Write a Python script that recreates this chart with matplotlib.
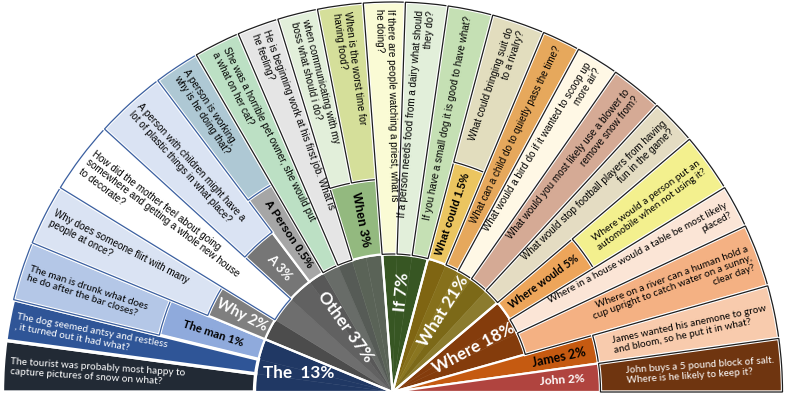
import matplotlib.pyplot as plt
from matplotlib.patches import Wedge
import numpy as np

ARIAL = ["Liberation Sans", "DejaVu Sans"]
CALIBRI = ["Lato", "DejaVu Sans"]

# inner ring: first word of the question
group_names = ["The ", "Other", "If", "What", "Where"]
group_pct = [13, 37, 7, 21, 18]
group_colors = ["#203864", "#707070", "#375623", "#7f6512", "#843c0c"]

# second ring: first two words
sub_names = ["The man", "Why", "A", "A Person", "When", "What could",
             "Where would", "James", "John"]
sub_pct = [1, 2, 3, 0.5, 3, 1.5, 5, 2, 2]
sub_colors = ["#8faadc", "#7f7f7f", "#767676", "#a6a6a6", "#93b97f",
              "#ebc560", "#eda55a", "#c55a11", "#b0443f"]
sub_text_colors = ["black", "white", "white", "black", "black",
                   "black", "black", "black", "white"]

# outer ring: example questions, left to right
questions = [
    "The tourist was probably most happy to\ncapture pictures of snow on what?",
    "The dog seemed antsy and restless\n, it turned out it had what?",
    "The man is drunk what does\nhe do after the bar closes?",
    "Why does someone flirt with many\npeople at once?",
    "How did the mother feel about going\nsomewhere and getting a whole new house\nto decorate?",
    "A person with children might have a\nlot of plastic things in what place?",
    "A person is working,\nwhy is he doing that?",
    "She was a horrible pet owner, she would put\na what on her cat?",
    "He is beginning work at his first job. What is\nhe feeling?",
    "when communicating with my\nboss what should i do?",
    "When is the worst time for\nhaving food?",
    "If there are people watching a priest, what is\nhe doing?",
    "If a person needs food from a dairy what should\nthey do?",
    "If you have a small dog it is good to have what?",
    "What could bringing suit do\nto a rivalry?",
    "What can a child do to quietly pass the time?",
    "What would a bird do if it wanted to scoop up\nmore air?",
    "What would you most likely use a blower to\nremove snow from?",
    "What would stop football players from having\nfun in the game?",
    "Where would a person put an\nautomobile when not using it?",
    "Where in a house would a table be most likely\nplaced?",
    "Where on a river can a human hold a\ncup upright to catch water on a sunny,\nclear day?",
    "James wanted his anemone to grow\nand bloom, so he put it in what?",
    "John buys a 5 pound block of salt.\nWhere is he likely to keep it?",
]
q_colors = ["#222a35", "#2f5597", "#b4c7e7", "#dae3f3", "#ffffff", "#dae3f3",
            "#aec8d4", "#bce0c4", "#e5e5e5", "#e2efda", "#d5df9a", "#fafbd5",
            "#e2efda", "#c5e0b4", "#e2ddbe", "#e6a85c", "#fff8e5", "#d5aa95",
            "#e4dcc2", "#f3f08e", "#fbe5d6", "#f4b183", "#f8cbad", "#6f3510"]
q_group = [0, 0, 0, 1, 1, 1, 1, 1, 1, 1, 1, 2, 2, 2, 3, 3, 3, 3, 3, 4, 4, 4, -1, -1]
q_sub = [-1, -1, 0, 1, -1, 2, 3, -1, -1, 4, 4, -1, -1, -1, 5, -1, -1, -1, -1,
         6, -1, -1, 7, 8]

# layout
q_edges = [180, 172.4, 166.3, 157.5, 148.4, 137.6, 127, 120.2, 113.3, 107.1,
           101.1, 94.3, 88.1, 81.8, 75.1, 67.2, 61.5, 55.1, 47.3, 40.4, 31.6,
           25.2, 15.8, 7.9, 0]
stripe_colors = ["#203864", "#203864", "#203864",
                 "#4c4c4c", "#6e6e6e", "#616161", "#585858", "#686c68",
                 "#565b56", "#5a6357", "#5a6357",
                 "#375623", "#375623", "#375623",
                 "#7f6512", "#86701b", "#8a7620", "#7c6918", "#8b7b2e",
                 "#843c0c", "#843c0c", "#843c0c", None, None]
calibri_q = [0, 1, 2, 19, 20, 21, 22, 23]
R_OUT, R_IN = 390, 138
sub_r_out = [240, 200, 200, 240, 213, 238, 236, 208, 208]
sub_sizes = [8.3, 10.5, 9.3, 8.2, 9, 7.8, 7.8, 9, 8.6]
sub_font = [CALIBRI, CALIBRI, CALIBRI, ARIAL, ARIAL, ARIAL, CALIBRI, CALIBRI, CALIBRI]
group_text_r = [96, 80, 100, 96, 92]


def radial_rot(theta):
    return theta - 180 if theta > 90 else theta


def polar(r, theta):
    t = np.radians(theta)
    return r * np.cos(t), r * np.sin(t)


fig = plt.figure(figsize=(7.85, 3.93), dpi=100)
ax = fig.add_axes([0, 0, 1, 1])
ax.set_xlim(-392.5, 392.5)
ax.set_ylim(-1, 392)
ax.set_aspect("equal")
ax.axis("off")

# inner ring stripes and group wedges
for i, c in enumerate(stripe_colors):
    if c is None:
        continue
    ax.add_patch(Wedge((0, 0), R_IN, q_edges[i + 1], q_edges[i], facecolor=c,
                       edgecolor=c, lw=0.3))
for g in range(len(group_names)):
    idx = [i for i, q in enumerate(q_group) if q == g]
    t2, t1 = q_edges[idx[0]], q_edges[idx[-1] + 1]
    ax.add_patch(Wedge((0, 0), R_IN, t1, t2, facecolor="none",
                       edgecolor="white", lw=1.6))
    tm = (t1 + t2) / 2
    x, y = polar(group_text_r[g], tm)
    rot = 0 if g == 0 else radial_rot(tm)
    ax.text(x, y, f"{group_names[g]} {group_pct[g]}%", rotation=rot,
            rotation_mode="anchor", ha="center", va="center", color="white",
            fontsize=12.3, fontweight="bold", family=CALIBRI)

# second ring labels
for s in range(len(sub_names)):
    idx = [i for i, q in enumerate(q_sub) if q == s]
    t2, t1 = q_edges[idx[0]], q_edges[idx[-1] + 1]
    r_in = 0 if q_group[idx[0]] < 0 else R_IN
    ax.add_patch(Wedge((0, 0), sub_r_out[s], t1, t2, width=sub_r_out[s] - r_in,
                       facecolor=sub_colors[s], edgecolor="white", lw=1.6))
    tm = (t1 + t2) / 2
    rt = 170 if r_in == 0 else (sub_r_out[s] + r_in) / 2
    x, y = polar(rt, tm)
    ax.text(x, y, f"{sub_names[s]} {sub_pct[s]:g}%", rotation=radial_rot(tm),
            rotation_mode="anchor", ha="center", va="center",
            color=sub_text_colors[s], fontsize=sub_sizes[s], fontweight="bold",
            family=sub_font[s])

# outer ring: question boxes
for i, q in enumerate(questions):
    t2, t1 = q_edges[i], q_edges[i + 1]
    if q_sub[i] >= 0:
        r_in = sub_r_out[q_sub[i]]
    else:
        r_in = R_IN
    edge = "white" if i < 2 else ("#3a5fa0" if i < 7 else "#1e1e1e")
    ax.add_patch(Wedge((0, 0), R_OUT, t1, t2, width=R_OUT - r_in,
                       facecolor=q_colors[i], edgecolor="white", lw=2.4))
    ax.add_patch(Wedge((0, 0), R_OUT, t1, t2, width=R_OUT - r_in,
                       facecolor="none", edgecolor=edge, lw=0.9))
    tm = (t1 + t2) / 2
    x, y = polar(R_OUT - 7, tm)
    left = tm > 90
    if i >= 22:
        ma = "left"
    else:
        ma = "left" if left else "right"
    tc = "white" if i in (0, 1, 23) else "black"
    fam = CALIBRI if i in calibri_q else ARIAL
    fs = 7.2 if i in calibri_q else 7.1
    ax.text(x, y, q, rotation=radial_rot(tm), rotation_mode="anchor",
            ha="left" if left else "right", va="center", multialignment=ma,
            color=tc, fontsize=fs, family=fam, linespacing=1.15)

fig.savefig("out.png", dpi=100)
